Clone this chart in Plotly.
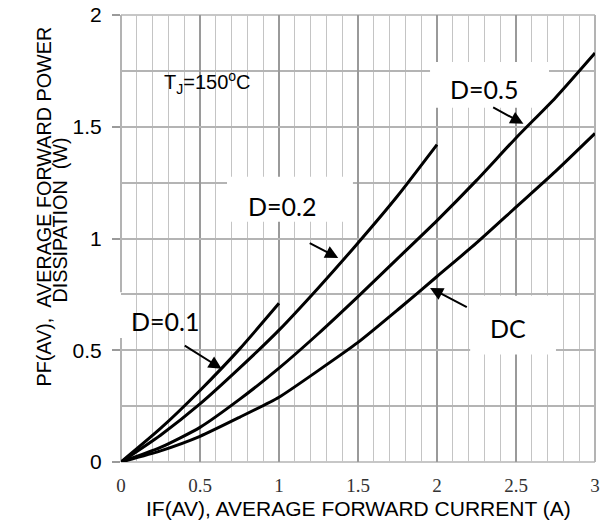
import plotly.graph_objects as go

# ---- data ----
x_d01 = [0, 0.25, 0.5, 0.75, 1.0]
p_d01 = [0, 0.15, 0.32, 0.505, 0.71]

x_d02 = [0, 0.25, 0.5, 0.75, 1.0, 1.25, 1.5, 1.75, 2.0]
p_d02 = [0, 0.12, 0.26, 0.42, 0.59, 0.78, 0.98, 1.19, 1.42]

x_d05 = [0, 0.25, 0.5, 0.75, 1.0, 1.25, 1.5, 1.75, 2.0, 2.25, 2.5, 2.75, 3.0]
p_d05 = [0, 0.065, 0.155, 0.28, 0.42, 0.575, 0.74, 0.91, 1.08, 1.26, 1.45, 1.63, 1.83]

x_dc = [0, 0.25, 0.5, 0.75, 1.0, 1.25, 1.5, 1.75, 2.0, 2.25, 2.5, 2.75, 3.0]
p_dc = [0, 0.05, 0.115, 0.20, 0.29, 0.41, 0.535, 0.68, 0.83, 0.98, 1.14, 1.30, 1.47]

x_ticks = [0, 0.5, 1, 1.5, 2, 2.5, 3]
x_tick_text = ["0", "0.5", "1", "1.5", "2", "2.5", "3"]
y_ticks = [0, 0.5, 1, 1.5, 2]
y_tick_text = ["0", "0.5", "1", "1.5", "2"]

labels = ["D=0.1", "D=0.2", "D=0.5", "DC"]
label_pos = [(0.278, 0.633), (1.019, 1.147), (2.297, 1.669), (2.449, 0.601)]
label_box = [(0.671, 1.468, 1.075, 1.276),
             (1.956, 2.709, 1.585, 1.79), (2.21, 2.753, 0.481, 0.744)]
arrow_tip = [(0.637, 0.417), (1.375, 0.913), (2.547, 1.513), (1.956, 0.779)]
arrow_tail = [(0.394, 0.525), (1.185, 0.983), (2.346, 1.59), (2.198, 0.689)]

MINOR = "#c4c4c4"
MAJOR = "#9a9a9a"
HGRID = "#b4b4b4"

fig = go.Figure()
for xs, ys in [(x_d01, p_d01), (x_d02, p_d02), (x_d05, p_d05), (x_dc, p_dc)]:
    fig.add_trace(go.Scatter(x=xs, y=ys, mode="lines",
                             line=dict(color="black", width=3, shape="spline", smoothing=0.6),
                             showlegend=False, hoverinfo="skip", cliponaxis=False))

shapes = []
# frame lines at the plot edges (grey, like the grid)
for (x0, x1, y0, y1, c) in [(0, 0, 0, 1, MAJOR), (1, 1, 0, 1, MAJOR),
                            (0, 1, 1, 1, HGRID), (0, 1, 0, 0, HGRID)]:
    shapes.append(dict(type="line", xref="paper", yref="paper", x0=x0, x1=x1, y0=y0, y1=y1,
                       line=dict(color=c, width=1.5), layer="between"))
# white boxes behind the labels
shapes.append(dict(type="rect", xref="paper", yref="y", x0=-0.03, x1=0.23, y0=0.555, y1=0.76,
                   fillcolor="white", line=dict(width=0), layer="between"))
for (x0, x1, y0, y1) in label_box:
    shapes.append(dict(type="rect", xref="x", yref="y", x0=x0, x1=x1, y0=y0, y1=y1,
                       fillcolor="white", line=dict(width=0), layer="between"))

ann = []
for t, (lx, ly) in zip(labels, label_pos):
    ann.append(dict(x=lx, y=ly, xref="x", yref="y", text=t, showarrow=False,
                    font=dict(family="Lato", size=25, color="black"),
                    xanchor="center", yanchor="middle"))
for (tx, ty), (sx, sy) in zip(arrow_tip, arrow_tail):
    ann.append(dict(x=tx, y=ty, ax=sx, ay=sy, xref="x", yref="y", axref="x", ayref="y",
                    text="", showarrow=True, arrowhead=2, arrowsize=1.3, arrowwidth=2,
                    arrowcolor="black", standoff=0, startstandoff=0))
ann.append(dict(x=0.26, y=1.696, xref="x", yref="y",
                text="T<sub>J</sub>=150<sup>o</sup>C", showarrow=False,
                font=dict(family="Liberation Sans", size=20, color="black"),
                xanchor="left", yanchor="middle"))
ann.append(dict(x=-0.163, y=0.571, xref="paper", yref="paper",
                text="PF(AV),  AVERAGE FORWARD POWER", showarrow=False, textangle=-90,
                font=dict(family="Liberation Sans", size=19.8, color="black"),
                xanchor="center", yanchor="middle"))
ann.append(dict(x=-0.129, y=0.542, xref="paper", yref="paper",
                text="DISSIPATION  (W)", showarrow=False, textangle=-90,
                font=dict(family="Liberation Sans", size=19.8, color="black"),
                xanchor="center", yanchor="middle"))
ann.append(dict(x=0.5, y=-0.104, xref="paper", yref="paper",
                text="IF(AV), AVERAGE FORWARD CURRENT (A)", showarrow=False,
                font=dict(family="Liberation Sans", size=21, color="black"),
                xanchor="center", yanchor="middle"))

fig.update_layout(
    width=600, height=529,
    margin=dict(l=121, r=5, t=15, b=66.5),
    paper_bgcolor="white", plot_bgcolor="white",
    shapes=shapes, annotations=ann,
    xaxis=dict(range=[0, 3], tickmode="array", tickvals=x_ticks, ticktext=x_tick_text,
               automargin=False, ticklabeloverflow="allow",
               showgrid=True, gridcolor=MAJOR, gridwidth=1.5,
               minor=dict(tickmode="linear", tick0=0, dtick=0.1, showgrid=True,
                          gridcolor=MINOR, gridwidth=1, ticks=""),
               zeroline=False, showline=False, ticks="", ticklabelstandoff=10,
               tickfont=dict(family="Liberation Serif", size=19, color="#333")),
    yaxis=dict(range=[0, 2], tickmode="array", tickvals=y_ticks, ticktext=y_tick_text,
               automargin=False, ticklabeloverflow="allow",
               showgrid=True, gridcolor=HGRID, gridwidth=1.5,
               minor=dict(tickmode="linear", tick0=0, dtick=0.25, showgrid=True,
                          gridcolor=HGRID, gridwidth=1.5, ticks=""),
               zeroline=False, showline=False, ticks="outside", ticklen=8,
               tickcolor=MAJOR, tickwidth=1.5, ticklabelstandoff=6,
               tickfont=dict(family="Liberation Sans", size=21, color="black")),
)
fig.write_html("out.html", config={"displayModeBar": False},
               post_script="document.body.style.margin='0';document.body.style.overflow='hidden';")
